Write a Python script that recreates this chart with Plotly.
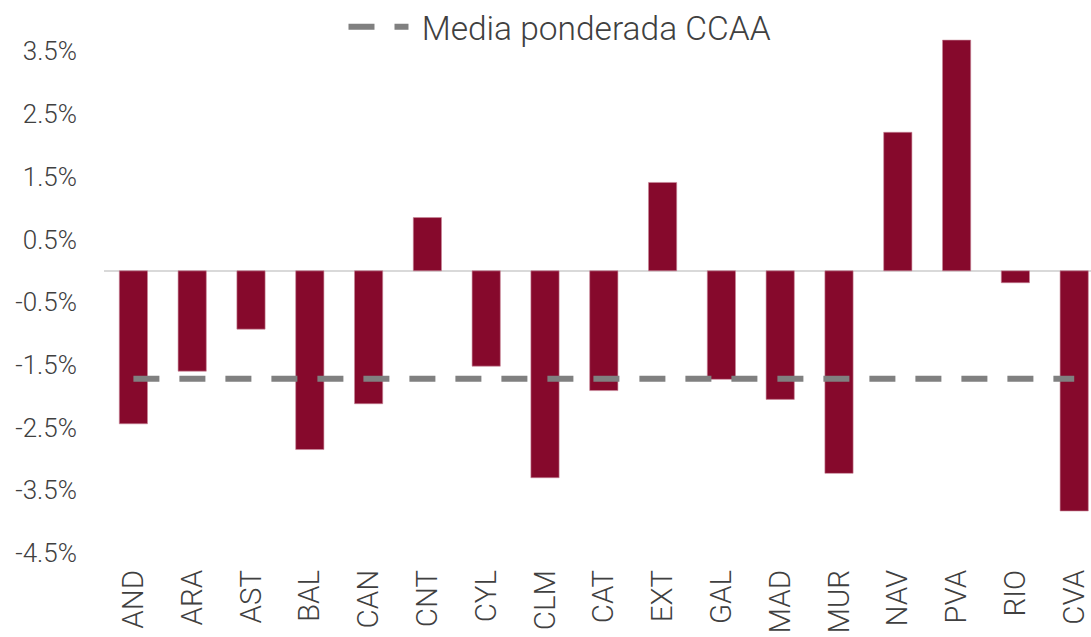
import plotly.graph_objects as go

categories = ["AND", "ARA", "AST", "BAL", "CAN", "CNT", "CYL", "CLM", "CAT",
              "EXT", "GAL", "MAD", "MUR", "NAV", "PVA", "RIO", "CVA"]
values = [-2.44, -1.60, -0.93, -2.85, -2.12, 0.85, -1.52, -3.30, -1.91,
          1.41, -1.73, -2.05, -3.23, 2.21, 3.68, -0.19, -3.83]
media_ponderada = -1.72
media_values = [media_ponderada] * len(categories)
tick_vals = [-4.5, -3.5, -2.5, -1.5, -0.5, 0.5, 1.5, 2.5, 3.5]
tick_text = [f"{v:.1f}%" for v in tick_vals]

FONT = "Roboto"
TXT = "#404040"

W, H = 1091, 637
ML, MR, MT, MB = 104, 0, 26, 84
step = 58.8
x_end = -0.5 + (W - ML - MR) / step

fig = go.Figure()
fig.add_trace(go.Bar(
    x=categories, y=values, name="Variación",
    marker=dict(color="#86092C", line=dict(color="#c98a9b", width=0.6)),
    showlegend=False,
))
fig.add_trace(go.Scatter(
    x=categories, y=media_values, name=" Media ponderada CCAA",
    mode="lines",
    line=dict(color="#808080", width=6, dash="26px,20px"),
))

fig.update_layout(
    width=W, height=H,
    margin=dict(l=ML, r=MR, t=MT, b=MB, autoexpand=False),
    paper_bgcolor="white", plot_bgcolor="white",
    bargap=0.52,
    font=dict(family=FONT, color=TXT, weight=300),
    legend=dict(
        orientation="h", x=0.462, xanchor="center", y=0.998, yanchor="middle",
        font=dict(family=FONT, size=33.5, color=TXT, weight=300),
        bgcolor="rgba(0,0,0,0)", itemwidth=60,
    ),
    xaxis=dict(
        range=[-0.5, x_end], showgrid=False, showline=False, zeroline=False,
        automargin=False,
        tickangle=-90, tickfont=dict(family=FONT, size=29.5, color=TXT, weight=300),
        ticks="", ticklabelstandoff=10,
    ),
    yaxis=dict(
        range=[-4.5, 3.905], showgrid=False, showline=False,
        automargin=False,
        zeroline=True, zerolinecolor="#d9d9d9", zerolinewidth=2,
        tickvals=tick_vals, ticktext=tick_text,
        tickfont=dict(family=FONT, size=26, color=TXT, weight=300),
        ticks="", ticklabelstandoff=26,
    ),
)

fig.write_html(
    "out.html",
    config={"displayModeBar": False},
    post_script="document.body.style.margin='0';document.body.style.overflow='hidden';",
)
